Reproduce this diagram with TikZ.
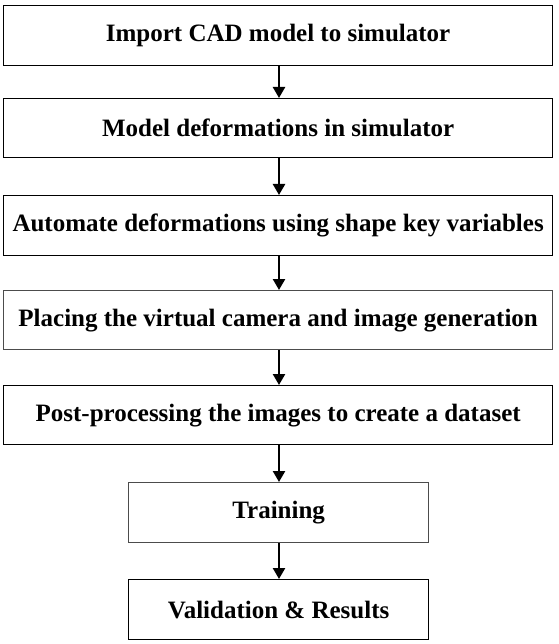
\documentclass[tikz,border=0pt]{standalone}
\usepackage{fontspec}
\setmainfont{Liberation Serif}
\usetikzlibrary{arrows.meta}
\begin{document}
\begin{tikzpicture}[x=1pt,y=-1pt,
  stepbox/.style={draw=black,line width=1.3pt,minimum height=60pt,inner sep=0pt,font=\fontsize{25}{28}\selectfont\bfseries,anchor=north west},
  wide/.style={minimum width=549pt},
  narrow/.style={minimum width=300pt},
  arr/.style={-{Triangle[length=11pt,width=12pt]},line width=2.4pt}]
\useasboundingbox (0,0) rectangle (558,644);
\node[stepbox,wide] (a) at (3,5) {Import CAD model to simulator};
\node[stepbox,wide,minimum height=59pt] (b) at (3,98) {Model deformations in simulator};
\node[stepbox,wide] (c) at (3,195) {Automate deformations using shape key variables};
\node[stepbox,wide,minimum height=59pt,draw=black!70] (d) at (3,290) {Placing the virtual camera and image generation};
\node[stepbox,wide,minimum height=59pt] (e) at (3,385) {Post-processing the images to create a dataset};
\node[stepbox,narrow,draw=black!70] (f) at (128,482) {Training};
\node[stepbox,narrow] (g) at (128,579) {Validation \& Results};
\draw[arr] (a.south -| 279,0) -- (b.north -| 279,0);
\draw[arr] (b.south -| 279,0) -- (c.north -| 279,0);
\draw[arr] (c.south -| 279,0) -- (d.north -| 279,0);
\draw[arr] (d.south -| 279,0) -- (e.north -| 279,0);
\draw[arr] (e.south -| 279,0) -- (f.north -| 279,0);
\draw[arr] (f.south -| 279,0) -- (g.north -| 279,0);
\end{tikzpicture}
\end{document}
